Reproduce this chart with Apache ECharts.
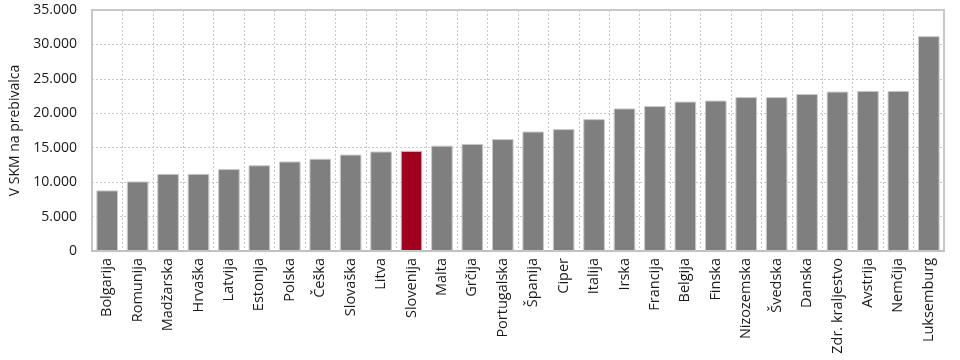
<!DOCTYPE html>
<html><head><meta charset="utf-8">
<script src="https://cdn.jsdelivr.net/npm/echarts@6/dist/echarts.min.js"></script>
<style>html,body{margin:0;padding:0;background:#fff}#c{width:960px;height:360px}</style>
</head><body><div id="c"></div>
<script>
var categories = ['Bolgarija','Romunija','Madžarska','Hrvaška','Latvija','Estonija','Polska','Češka','Slovaška','Litva','Slovenija','Malta','Grčija','Portugalska','Španija','Ciper','Italija','Irska','Francija','Belgija','Finska','Nizozemska','Švedska','Danska','Zdr. kraljestvo','Avstrija','Nemčija','Luksemburg'];
var values = [8800, 10100, 11200, 11200, 11900, 12450, 13000, 13400, 14000, 14450, 14550, 15300, 15550, 16250, 17350, 17700, 19150, 20700, 21050, 21700, 21850, 22350, 22350, 22800, 23150, 23250, 23250, 31200];
var highlight = 'Slovenija';
var yTicks = [0, 5000, 10000, 15000, 20000, 25000, 30000, 35000];
var yTitle = 'V SKM na prebivalca';

var font = '"Open Sans", sans-serif';
var chart = echarts.init(document.getElementById('c'), null, {renderer: 'canvas'});
chart.setOption({
  animation: false,
  grid: {left: 92, right: 16, top: 10, bottom: 109, show: true, borderColor: '#c8c8c8', borderWidth: 2},
  xAxis: {
    type: 'category', data: categories,
    axisLine: {show: true, lineStyle: {color: '#c0c0c0', width: 2}},
    axisTick: {show: false},
    splitLine: {show: true, interval: 0, lineStyle: {color: '#c8c8c8', type: [2, 2], width: 1}},
    axisLabel: {interval: 0, rotate: 90, color: '#1a1a1a', fontFamily: font, fontSize: 14.5, margin: 7}
  },
  yAxis: {
    type: 'value', min: yTicks[0], max: yTicks[yTicks.length - 1], interval: 5000,
    name: yTitle, nameLocation: 'middle', nameGap: 64, nameRotate: 90,
    nameTextStyle: {color: '#1a1a1a', fontFamily: font, fontSize: 14},
    axisLine: {show: false}, axisTick: {show: false},
    splitLine: {show: true, lineStyle: {color: '#c8c8c8', type: [2, 2], width: 1}},
    axisLabel: {color: '#1a1a1a', fontFamily: font, fontSize: 14, margin: 15,
      formatter: function (v) { return String(v).replace(/\B(?=(\d{3})+(?!\d))/g, '.'); }}
  },
  series: [{
    type: 'bar', barWidth: '71%',
    data: values.map(function (v, i) {
      return {value: v, itemStyle: {color: categories[i] === highlight ? '#a0001e' : '#7f7f7f'}};
    }),
    itemStyle: {borderColor: '#c9c9c9', borderWidth: 1}
  }]
});
</script></body></html>
